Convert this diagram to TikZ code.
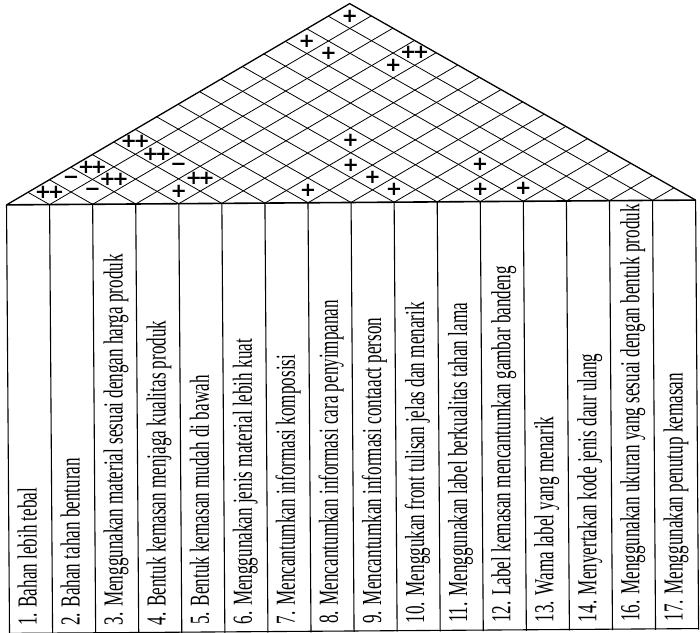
\documentclass[tikz,border=0pt]{standalone}
\usepackage{fontspec}
\setmainfont{Liberation Serif}
\newfontfamily\labfont[FakeStretch=0.622]{Liberation Serif}
\newfontfamily\symfont{DejaVu Sans}
\tikzset{
  roofline/.style={line width=0.8pt},
  roofedge/.style={line width=1.3pt},
  tabline/.style={line width=1.1pt},
  topline/.style={line width=1.6pt},
  lab/.style={rotate=90, anchor=base west, inner sep=0pt, font=\labfont\fontsize{27.5}{27.5}\selectfont},
  sym/.style={inner sep=0pt, font=\symfont\bfseries\fontsize{19.5}{19.5}\selectfont},
}
\begin{document}
\begin{tikzpicture}[x=1pt,y=-1pt]
\useasboundingbox (0,0) rectangle (700,632);
\begin{scope}[rotate around={0.4:(350,316)}]
  \coordinate (L) at (7.3,202.5);
  \coordinate (R) at (696.42,202.5);
  \coordinate (A) at (351.86,3.6);
  % roof grid
  \foreach \k in {1,...,15} {
    \pgfmathsetmacro\bk{7.3+43.07*\k}
    \pgfmathsetmacro\rx{(\bk+696.42)/2}
    \pgfmathsetmacro\ry{202.5-(696.42-\bk)/2*0.57735}
    \pgfmathsetmacro\lx{(7.3+\bk)/2}
    \pgfmathsetmacro\ly{202.5-(\bk-7.3)/2*0.57735}
    \draw[roofline] (\lx,\ly) -- (\bk,202.5) -- (\rx,\ry);
  }
  \draw[roofedge] (L) -- (A) -- (R);
  % table
  \foreach \k in {0,...,16} {
    \pgfmathsetmacro\bk{7.3+43.07*\k}
    \draw[tabline] (\bk,202.5) -- (\bk,632);
  }
  \draw[topline] (L) -- (R);
  \draw[tabline] (7.3,631) -- (696.42,631);
  % labels
  \foreach \i/\t [count=\n] in {
    1/{1. Bahan lebih tebal},
    2/{2. Bahan tahan benturan},
    3/{3. Menggunakan material sesuai dengan harga produk},
    4/{4. Bentuk kemasan menjaga kualitas produk},
    5/{5. Bentuk kemasan mudah di bawah},
    6/{6. Menggunakan jenis material lebih kuat},
    7/{7. Mencantumkan informasi komposisi},
    8/{8. Mencantumkan informasi cara penyimpanan},
    9/{9. Mencantumkan informasi contaact person},
    10/{10. Menggukan front tulisan jelas dan menarik},
    11/{11. Menggunakan label berkualitas tahan lama},
    12/{12. Label kemasan mencantumkan gambar bandeng},
    13/{13. Wama label yang menarik},
    14/{14. Menyertakan kode jenis daur ulang},
    15/{16. Menggunakan ukuran yang sesuai dengan bentuk produk},
    16/{17. Menggunakan penutup kemasan}} {
    \node[lab] (c\n) at ({7.3+43.07*(\i-0.5)+5.5},624) {\t};
  }
  % correlation symbols
  \foreach \i/\j in {1/2,1/4,2/4,1/6,2/6,4/6,4/16} {
    \node[sym] (s\i-\j) at ({7.3+43.07*(\i+\j-1)/2},{202.5-43.07*(\j-\i)/2*0.57735}) {+\kern-0.18em+};
  }
  \foreach \i/\j in {1/3,2/3,3/6} {
    \node[sym] (s\i-\j) at ({7.3+43.07*(\i+\j-1)/2},{202.5-43.07*(\j-\i)/2*0.57735}) {−};
  }
  \foreach \i/\j in {4/5,7/8,6/11,7/10,8/10,9/10,10/13,11/12,12/13,1/14,2/14,4/15,1/16} {
    \node[sym] (s\i-\j) at ({7.3+43.07*(\i+\j-1)/2},{202.5-43.07*(\j-\i)/2*0.57735}) {+};
  }
\end{scope}
\end{tikzpicture}
\end{document}
